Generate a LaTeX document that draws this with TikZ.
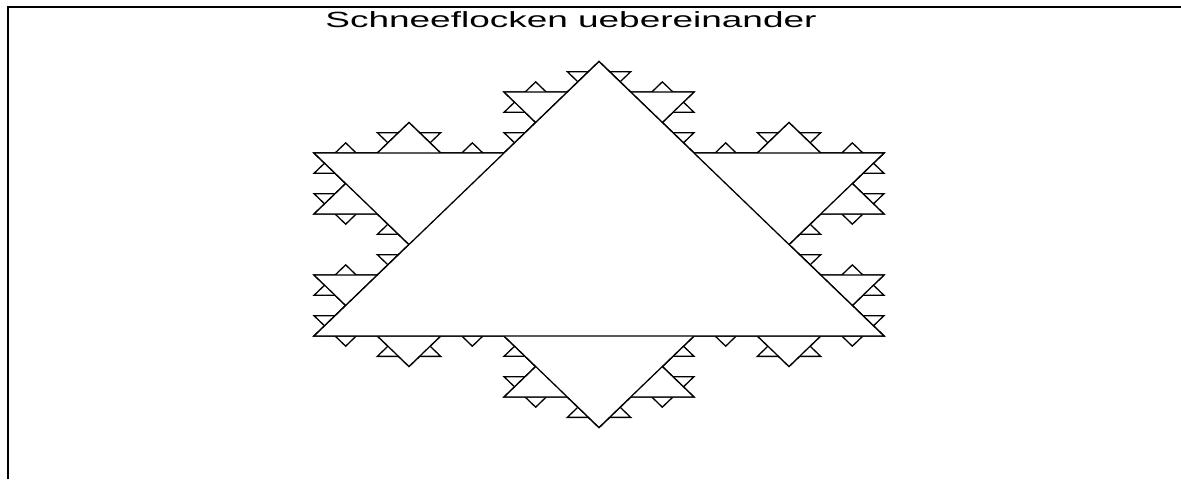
\documentclass[tikz,border=0pt]{standalone}
\usepackage{fontspec}
\setmainfont{Liberation Sans}

% one flake: the six smaller flakes at the corners first, then the two big triangles on top
\newcommand\flockeTeil[1]{%
  \ifnum#1>0
    \foreach \ex/\ey in {0/3,-3/2,-3/0,0/-1,3/0,3/2}{%
      \begin{scope}[scale around={1/3:(\ex,\ey)}]
        \flockeTeil{\the\numexpr#1-1\relax}
      \end{scope}}%
  \fi
  \filldraw[dreieck] (-3,2) -- (3,2) -- (0,-1) -- cycle;
  \filldraw[dreieck] (-3,0) -- (3,0) -- (0,3) -- cycle;}

\begin{document}
\begin{tikzpicture}[x=0.5pt,y=-0.5pt,
    dreieck/.style={fill=white,draw=black,line width=0.65pt},
    rahmen/.style={draw=black,line width=1pt},
    titel/.style={anchor=base,font=\fontsize{11}{13}\selectfont,xscale=1.68}]
  \useasboundingbox (0,0) rectangle (1181,479);
  \draw[rahmen,line width=1.4pt] (8,479) -- (8,6.5);
  \draw[rahmen] (7.3,7) -- (1181,7);
  \node[titel] (titel) at (571,27) {Schneeflocken uebereinander};
  \begin{scope}[shift={(599,336)},x=47.5pt,y=45.75pt]
    \flockeTeil{2}
  \end{scope}
\end{tikzpicture}
\end{document}
